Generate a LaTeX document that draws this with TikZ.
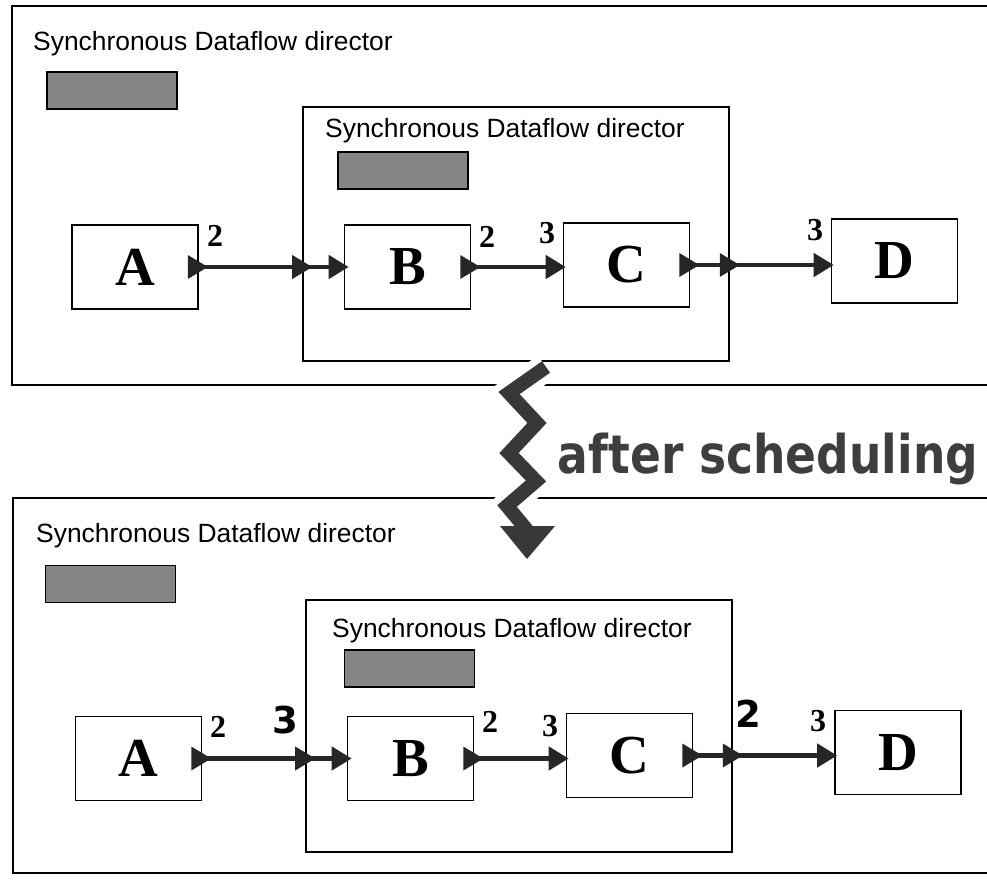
\documentclass[tikz,border=0pt]{standalone}
\usepackage{fontspec}
\usepackage{graphicx}
\setmainfont{Liberation Serif}
\newfontfamily\titlefont{Liberation Sans}
\newfontfamily\digsans{DejaVu Sans}
\newfontfamily\schedfont{DejaVu Sans}
\usetikzlibrary{arrows.meta}
\definecolor{iconfill}{HTML}{858585}
\definecolor{zig}{HTML}{383838}
\definecolor{schedtext}{HTML}{3E3E3E}
\begin{document}
\begin{tikzpicture}[x=1pt,y=-1pt,
  outerbox/.style={draw=black,line width=2pt},
  innerbox/.style={draw=black,line width=1.6pt,inner sep=0pt},
  actor/.style={draw=black,line width=1.6pt,minimum width=126pt,minimum height=84pt,inner sep=0pt,
     font=\fontsize{55}{55}\selectfont\bfseries},
  icon/.style={draw=black,line width=1.4pt,fill=iconfill,inner sep=0pt,minimum width=130pt,minimum height=37pt},
  title/.style={anchor=base west,inner sep=0pt,font=\titlefont\fontsize{26.4}{26.4}\selectfont},
  rate/.style={inner sep=0pt,font=\fontsize{32}{32}\selectfont\bfseries},
  ratesans/.style={inner sep=0pt,font=\digsans\fontsize{37}{37}\selectfont\bfseries},
  wire/.style={draw=black!85,line width=4.5pt},
  arrowwire/.style={wire,-{Triangle[length=20pt,width=23pt]}},
  port/.pic={\fill[black!85] (-10,-12) -- (10,0) -- (-10,12) -- cycle;}
]
\useasboundingbox (0,0) rectangle (987,879);
\fill[white] (0,0) rectangle (987,879);

% ================= TOP =================
\draw[outerbox] (12,6) rectangle (1000,385);
\node[title] (T1) at (33,50) {Synchronous Dataflow director};
\node[icon] (I1) at (112,90.5) {};
\node[innerbox,minimum width=426pt,minimum height=254pt] (IB1) at (516,234) {};
\node[title] (T1i) at (325,137) {Synchronous Dataflow director};
\node[icon] (I1i) at (403,170.5) {};

\node[actor] (A1) at (135,267) {A};
\node[actor] (B1) at (407.5,267) {B};
\node[actor] (C1) at (626.5,265) {C};
\node[actor] (D1) at (894.5,261) {D};

\coordinate (P1in) at (IB1.west |- A1.east);
\coordinate (P1out) at (IB1.east |- C1.east);
\draw[wire] (A1.east) -- (P1in);
\draw[arrowwire] (P1in) -- ([xshift=5pt]B1.west);
\draw[arrowwire] (B1.east) -- ([xshift=3pt]B1.east -| C1.west);
\draw[wire] (C1.east) -- (P1out);
\draw[arrowwire] (P1out) -- ([xshift=3pt]C1.east -| D1.west);
\pic at ([xshift=-1pt]A1.east) {port};
\pic at (P1in) {port};
\pic at ([xshift=-1pt]B1.east) {port};
\pic at ([xshift=-1pt]C1.east) {port};
\pic at ([xshift=0pt]P1out) {port};

\node[rate] (r1) at (215,236) {2};
\node[rate] (r2) at (487,237) {2};
\node[rate] (r3) at (547,233) {3};
\node[rate] (r4) at (815,230) {3};

% ================= BOTTOM =================
\draw[outerbox] (13,498) rectangle (1000,873);
\node[title] (T2) at (36,542) {Synchronous Dataflow director};
\node[icon] (I2) at (110.5,584) {};
\node[innerbox,minimum width=426pt,minimum height=252pt] (IB2) at (519,726) {};
\node[title] (T2i) at (332,637) {Synchronous Dataflow director};
\node[icon] (I2i) at (409.5,668.5) {};

\node[actor] (A2) at (138.5,758.5) {A};
\node[actor] (B2) at (410.5,758.5) {B};
\node[actor] (C2) at (629.5,755.5) {C};
\node[actor] (D2) at (898,752.5) {D};

\coordinate (P2in) at (IB2.west |- A2.east);
\coordinate (P2out) at (IB2.east |- C2.east);
\draw[wire] (A2.east) -- (P2in);
\draw[arrowwire] (P2in) -- ([xshift=5pt]B2.west);
\draw[arrowwire] (B2.east) -- ([xshift=3pt]B2.east -| C2.west);
\draw[wire] (C2.east) -- (P2out);
\draw[arrowwire] (P2out) -- ([xshift=3pt]C2.east -| D2.west);
\pic at ([xshift=-1pt]A2.east) {port};
\pic at (P2in) {port};
\pic at ([xshift=-1pt]B2.east) {port};
\pic at ([xshift=-1pt]C2.east) {port};
\pic at (P2out) {port};

\node[rate] (s1) at (218,727) {2};
\node[ratesans] (s2) at (285,720) {3};
\node[rate] (s3) at (490,722) {2};
\node[rate] (s4) at (550,726) {3};
\node[ratesans] (s5) at (748,714) {2};
\node[rate] (s6) at (818,721) {3};

% ================= ZIGZAG =================
\coordinate (z0) at (546,367);
\coordinate (z1) at (509,393);
\coordinate (z2) at (537,423);
\coordinate (z3) at (509,453);
\coordinate (z4) at (536,481);
\coordinate (z5) at (507,506);
\coordinate (z6) at (527,530);
\draw[white,line width=28pt,line join=miter] (z0) -- (z1) -- (z2) -- (z3) -- (z4) -- (z5) -- (z6);
\fill[white] (493,520) -- (562,520) -- (527,568) -- cycle;
\draw[zig,line width=14pt,line join=miter] (z0) -- (z1) -- (z2) -- (z3) -- (z4) -- (z5) -- (z6);
\fill[zig] (500,526) -- (555,526) -- (527,559) -- cycle;

\node[inner sep=0pt,text=schedtext] (sched) at (768,459)
  {\resizebox*{420pt}{52pt}{\schedfont\bfseries after scheduling}};
\end{tikzpicture}
\end{document}
